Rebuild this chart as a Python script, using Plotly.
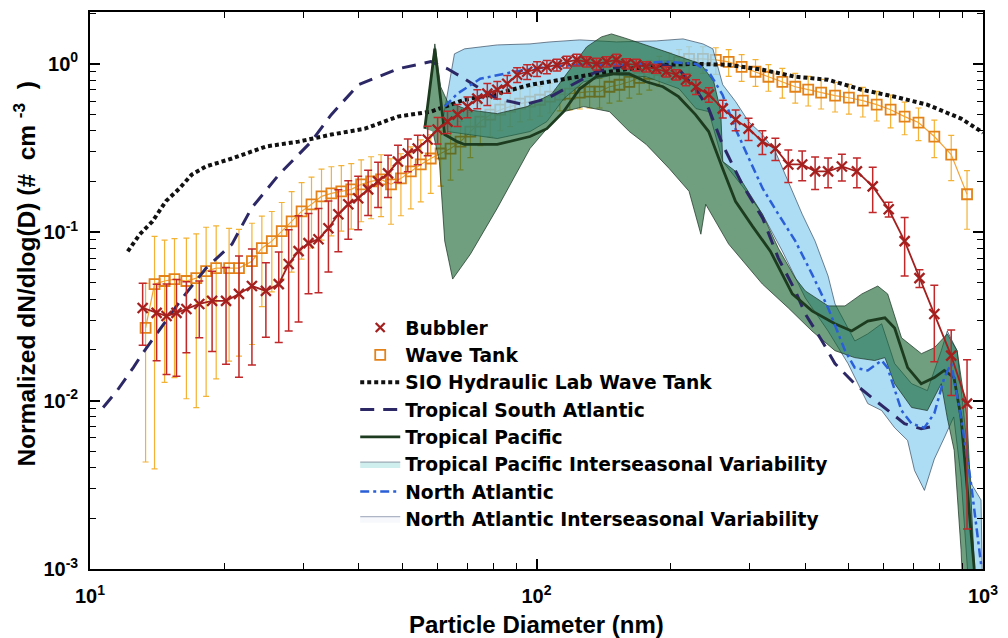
import plotly.graph_objects as go

# ---------------- data ----------------
bubbler_d = [13.12, 14.1, 14.84, 15.62, 16.44, 17.57, 18.77, 20.17, 21.56, 23.05,
             24.77, 26.47, 27.86, 29.32, 30.86, 32.49, 34.2, 35.99, 37.88, 39.87,
             41.97, 44.18, 46.5, 48.95, 51.5, 54.2, 57.06, 60.06, 63.2, 66.55,
             70.05, 73.7, 77.6, 81.7, 86.0, 90.5, 95.3, 100.3, 105.5, 111.1,
             116.9, 123.1, 129.5, 136.3, 143.5, 151, 159, 167.3, 176.1, 185.4,
             195.2, 205.4, 216.2, 227.6, 243.2, 261.3, 279.3, 298.5, 320.6, 342.8,
             366.4, 393.6, 420.7, 449.8, 483, 521.9, 566.2, 614.9, 667.6, 720.6,
             778, 848.8, 921]
bubbler_v = [0.0355, 0.0332, 0.0318, 0.0332, 0.035, 0.0375, 0.0391, 0.0391, 0.043, 0.0479,
             0.0448, 0.0492, 0.0647, 0.0772, 0.0861, 0.0909, 0.1056, 0.1278, 0.1465, 0.159,
             0.1797, 0.2004, 0.2235, 0.263, 0.2934, 0.314, 0.355, 0.407, 0.454, 0.499,
             0.557, 0.621, 0.665, 0.702, 0.761, 0.861, 0.897, 0.934, 0.96, 0.986,
             1.028, 1.056, 1.028, 1.0, 1.028, 1.056, 1.0, 0.986, 0.96, 0.934,
             0.897, 0.861, 0.804, 0.731, 0.656, 0.542, 0.466, 0.4125, 0.345, 0.314,
             0.2526, 0.2526, 0.2296, 0.2296, 0.2458, 0.2296, 0.187, 0.1368, 0.0885, 0.0534,
             0.0327, 0.0185, 0.0096]
bubbler_relerr = [0.4, 0.48, 0.55, 0.58, 0.45, 0.37, 0.5, 0.58, 0.68, 0.66,
                  0.47, 0.55, 0.6, 0.62, 0.5, 0.52, 0.45, 0.4, 0.38, 0.35,
                  0.3, 0.3, 0.28, 0.25, 0.22, 0.2, 0.2, 0.18, 0.15, 0.15,
                  0.14, 0.13, 0.15, 0.12, 0.12, 0.1, 0.1, 0.1, 0.09, 0.08,
                  0.08, 0.08, 0.07, 0.08, 0.07, 0.08, 0.07, 0.08, 0.07, 0.06,
                  0.07, 0.07, 0.08, 0.1, 0.1, 0.12, 0.14, 0.15, 0.16, 0.15,
                  0.22, 0.2, 0.22, 0.2, 0.18, 0.2, 0.3, 0.1, 0.38, 0.12,
                  0.48, 0.42, 0.82]

wave_d = [13.32, 13.95, 14.69, 15.46, 16.44, 17.3, 18.2, 19.17, 20.49, 21.56,
          23.05, 24.26, 25.54, 26.88, 28.29, 29.78, 31.34, 33.0, 34.72, 36.55,
          38.47, 40.49, 42.62, 44.86, 47.22, 49.7, 52.31, 55.06, 57.96, 61.0,
          64.2, 67.58, 71.1, 74.87, 78.8, 82.94, 87.3, 91.9, 96.7, 101.8,
          107.2, 112.8, 118.7, 125, 131.5, 138.4, 145.7, 153.4, 161.4, 169.9,
          178.9, 188.3, 198.2, 208.6, 219.6, 235.9, 252.1, 269.4, 288, 309.4,
          330.7, 355.3, 379.8, 406, 434, 466.3, 500.8, 538.1, 578, 621,
          667.6, 717, 778, 848.8, 921]
wave_v = [0.027, 0.0492, 0.0513, 0.0527, 0.0513, 0.0534, 0.0588, 0.0612, 0.0612, 0.0612,
          0.0673, 0.0804, 0.0885, 0.1014, 0.116, 0.133, 0.1465, 0.1633, 0.170, 0.175,
          0.1797, 0.1923, 0.2004, 0.206, 0.1923, 0.2088, 0.2296, 0.2526, 0.274, 0.2934,
          0.314, 0.345, 0.396, 0.454, 0.499, 0.534, 0.557, 0.58, 0.596, 0.612,
          0.638, 0.656, 0.665, 0.674, 0.683, 0.683, 0.731, 0.751, 0.782, 0.826,
          0.873, 0.922, 0.973, 1.028, 1.07, 1.07, 1.056, 1.028, 0.96, 0.897,
          0.838, 0.782, 0.731, 0.702, 0.674, 0.647, 0.629, 0.604, 0.572, 0.534,
          0.486, 0.448, 0.37, 0.289, 0.168]
wave_relerr = [0.84, 0.92, 0.75, 0.74, 0.8, 0.83, 0.82, 0.78, 0.72, 0.7,
               0.68, 0.55, 0.5, 0.48, 0.5, 0.48, 0.45, 0.45, 0.44, 0.42,
               0.42, 0.4, 0.4, 0.4, 0.42, 0.4, 0.4, 0.4, 0.38, 0.36,
               0.35, 0.32, 0.3, 0.28, 0.26, 0.25, 0.24, 0.22, 0.22, 0.2,
               0.2, 0.2, 0.2, 0.2, 0.2, 0.2, 0.2, 0.2, 0.2, 0.2,
               0.2, 0.2, 0.2, 0.18, 0.18, 0.18, 0.18, 0.18, 0.18, 0.18,
               0.18, 0.2, 0.2, 0.2, 0.2, 0.2, 0.2, 0.2, 0.2, 0.22,
               0.22, 0.22, 0.25, 0.3, 0.38]

sio_d = [12.15, 12.92, 13.8, 14.8, 15.86, 16.9, 18.2, 20.8, 24.8, 29.3,
         34.7, 41.3, 48.9, 58, 69, 81.7, 96.7, 115, 136, 161,
         192, 227, 269, 321, 380, 450, 535, 634, 750, 893, 1000]
sio_v = [0.077, 0.097, 0.116, 0.153, 0.182, 0.22, 0.246, 0.274, 0.323, 0.345,
         0.38, 0.412, 0.486, 0.52, 0.612, 0.665, 0.75, 0.815, 0.873, 0.934,
         0.986, 1.0, 0.986, 0.922, 0.838, 0.804, 0.702, 0.638, 0.572, 0.473, 0.39]

tsa_d = [10.7, 11.5, 12.5, 13.1, 14.1, 15.3, 16.1, 18.2, 20.8, 23.0,
         26.5, 31.3, 34.7, 39.9, 48.9, 58, 63.2, 69, 74.8, 81.7,
         93.7, 105.5, 115, 127.6, 136, 161, 192, 208, 227, 243,
         261, 289, 321, 348, 380, 400, 436, 466, 516, 564,
         611, 667, 727, 790]
tsa_v = [0.0091, 0.01146, 0.0157, 0.019, 0.0249, 0.034, 0.0407, 0.0612, 0.085, 0.139,
         0.22, 0.345, 0.499, 0.75, 0.934, 1.03, 0.934, 0.815, 0.711, 0.621,
         0.572, 0.621, 0.702, 0.815, 0.897, 0.986, 0.986, 0.934, 0.711, 0.542,
         0.332, 0.192, 0.121, 0.0702, 0.0448, 0.0327, 0.0226, 0.0166, 0.0126, 0.0104,
         0.00873, 0.0073, 0.0068, 0.0071]

tp_d = [56.2, 59.2, 62.3, 66.5, 69, 74.8, 81.7, 96.7, 105.5, 115,
        125, 136, 148.6, 161, 176, 192, 208, 227, 243, 261,
        279, 305, 334, 374, 414, 466, 508, 552, 603, 634,
        678, 727, 778, 819, 861, 893, 921, 955, 970]
tp_v = [0.412, 1.23, 0.38, 0.345, 0.332, 0.332, 0.332, 0.37, 0.412, 0.52,
        0.711, 0.838, 0.873, 0.873, 0.782, 0.731, 0.638, 0.499, 0.396, 0.24,
        0.1526, 0.108, 0.0772, 0.043, 0.0341, 0.0286, 0.0259, 0.0297, 0.031, 0.027,
        0.0157, 0.0126, 0.0137, 0.0151, 0.0137, 0.0079, 0.00323, 0.00103, 0.0005]

tp_up_d = [56.2, 59.2, 61.0, 63.2, 70.05, 81.7, 95.3, 108.3, 120, 129.5,
           139.8, 147.2, 157.4, 176.1, 195.2, 216.2, 233.4, 249.5, 258.6, 261.3,
           279.3, 320.6, 348, 379.8, 400, 449.8, 490.8, 535.4, 581.2, 611.6,
           657, 727.8, 778, 831.7, 875, 921, 970]
tp_up_v = [0.412, 1.313, 0.731, 0.596, 0.534, 0.506, 0.557, 0.665, 0.96, 1.26,
           1.445, 1.505, 1.425, 1.295, 1.178, 1.07, 1.0, 0.782, 0.52, 0.263,
           0.2296, 0.128, 0.0804, 0.0534, 0.0448, 0.0365, 0.0365, 0.043, 0.0479, 0.043,
           0.0236, 0.019, 0.0206, 0.0249, 0.0198, 0.0079, 0.0005]
tp_lo_d = [907.5, 893, 862, 831.7, 806.4, 750.6, 692, 634, 603, 572,
           516, 466, 414, 366.4, 320.6, 269.4, 239.3, 233.4, 219.6, 198.2,
           176.1, 161.4, 145.7, 127.6, 115.1, 105.5, 96.7, 81.7, 71.1, 64.9,
           62.3, 60.6, 58.6]
tp_lo_v = [0.0005, 0.0013, 0.00506, 0.0079, 0.0126, 0.00873, 0.0091, 0.0126, 0.018, 0.0173,
           0.018, 0.0198, 0.0259, 0.0355, 0.0492, 0.085, 0.1465, 0.0973, 0.175, 0.239,
           0.332, 0.396, 0.52, 0.557, 0.52, 0.412, 0.314, 0.139, 0.074, 0.0527,
           0.0885, 0.263, 0.396]

na_d = [62.3, 66.5, 74.8, 89.1, 105.5, 125, 161, 192, 227, 243,
        261, 279, 299, 321, 348, 380, 414, 450, 491, 516,
        552, 593, 611, 657, 692, 739, 778, 819, 849, 893,
        940, 990]
na_v = [0.557, 0.665, 0.815, 0.897, 0.96, 0.986, 0.986, 1.03, 1.0, 0.897,
        0.655, 0.412, 0.274, 0.182, 0.128, 0.0885, 0.0564, 0.0355, 0.0198, 0.0157,
        0.0151, 0.0173, 0.0157, 0.00873, 0.0073, 0.0069, 0.0084, 0.0137, 0.0166, 0.0079,
        0.00323, 0.00107]

na_up_d = [61.6, 65.5, 69.0, 76.4, 81.7, 96.7, 107.2, 125, 151, 185.4,
           212.9, 235.9, 248.3, 261.3, 279.3, 298.5, 320.6, 342.8, 366.4, 393.6,
           420.7, 449.8, 466.3, 516.4, 552, 593, 634, 692, 750.6, 806.4,
           831.7, 875, 940, 990, 1000]
na_up_v = [0.454, 1.146, 1.227, 1.26, 1.295, 1.313, 1.349, 1.387, 1.349, 1.368,
           1.406, 1.313, 1.227, 0.751, 0.596, 0.454, 0.38, 0.301, 0.2004, 0.128,
           0.0885, 0.055, 0.0375, 0.0226, 0.0249, 0.0286, 0.0166, 0.0126, 0.01146, 0.0198,
           0.0259, 0.0198, 0.00323, 0.00257, 0.0005]
na_lo_d = [940, 893, 860, 818.6, 778, 739.3, 702.4, 677.8, 634, 593,
           552, 498.4, 449.8, 400, 355.3, 320.6, 289.4, 261.3, 243.2, 227.6,
           208.6, 176.1, 148.7, 127.6, 115.1, 105.5, 96.7, 81.7, 63.2]
na_lo_v = [0.0005, 0.0035, 0.008, 0.006, 0.0045, 0.00293, 0.00385, 0.0058, 0.0069, 0.00873,
           0.0096, 0.0166, 0.0259, 0.0407, 0.0772, 0.128, 0.187, 0.263, 0.52, 0.542,
           0.711, 0.838, 0.861, 0.782, 0.621, 0.454, 0.396, 0.36, 0.396]

x_tick_vals = [10, 100, 1000]
x_tick_text = ["10<sup>1</sup>", "10<sup>2</sup>", "10<sup>3</sup>"]
y_tick_vals = [0.001, 0.01, 0.1, 1]
y_tick_text = ["10<sup>-3</sup>", "10<sup>-2</sup>", "10<sup>-1</sup>", "10<sup>0</sup>"]

# ---------------- styling ----------------
FONT = "Liberation Sans, Arial, Helvetica, sans-serif"
LEGEND_FONT = "DejaVu Sans, Liberation Sans, Arial, sans-serif"
C_BUB = "#a3201f"
C_BUB_ERR = "#c0282a"
C_WAVE = "#e4821a"
C_WAVE_ERR = "#f3b234"
C_SIO = "#111111"
C_TSA = "#2c2866"
C_TP = "#1c3b1f"
C_NA = "#2a5fd8"

bub_err = [r * v for r, v in zip(bubbler_relerr, bubbler_v)]
wave_err = [r * v for r, v in zip(wave_relerr, wave_v)]

fig = go.Figure()

# Wave tank (drawn beneath the variability bands)
fig.add_trace(go.Scatter(
    x=wave_d, y=wave_v, mode="lines+markers", showlegend=False,
    line=dict(color="#f2a43a", width=1.2),
    marker=dict(symbol="square-open", size=10, color=C_WAVE, line=dict(width=1.8, color=C_WAVE)),
    error_y=dict(type="data", array=wave_err, arrayminus=wave_err, color=C_WAVE_ERR,
                 thickness=1.2, width=3)))

# North Atlantic interseasonal variability band
fig.add_trace(go.Scatter(
    x=na_up_d + na_lo_d, y=na_up_v + na_lo_v, mode="lines", fill="toself",
    fillcolor="rgba(150,210,242,0.78)", line=dict(color="rgba(40,60,80,0.8)", width=0.8),
    showlegend=False, hoverinfo="skip"))

# Tropical Pacific interseasonal variability band
fig.add_trace(go.Scatter(
    x=tp_up_d + tp_lo_d, y=tp_up_v + tp_lo_v, mode="lines", fill="toself",
    fillcolor="rgba(15,95,40,0.6)", line=dict(color="rgba(25,50,35,0.9)", width=0.8),
    showlegend=False, hoverinfo="skip"))

fig.add_trace(go.Scatter(
    x=sio_d, y=sio_v, mode="lines", name="SIO Hydraulic Lab Wave Tank", legendrank=3,
    line=dict(color=C_SIO, width=4, dash="4px,3px")))
fig.add_trace(go.Scatter(
    x=tsa_d, y=tsa_v, mode="lines", name="Tropical South Atlantic", legendrank=4,
    line=dict(color=C_TSA, width=3, dash="14px,9px")))
fig.add_trace(go.Scatter(
    x=tp_d, y=tp_v, mode="lines", name="Tropical Pacific", legendrank=5,
    line=dict(color=C_TP, width=2.8)))
fig.add_trace(go.Scatter(
    x=na_d, y=na_v, mode="lines", name="North Atlantic", legendrank=7,
    line=dict(color=C_NA, width=2.5, dash="9px,4px,3px,4px")))

# Bubbler
fig.add_trace(go.Scatter(
    x=bubbler_d, y=bubbler_v, mode="lines+markers", showlegend=False,
    line=dict(color=C_BUB, width=1.8),
    marker=dict(symbol="x-thin", size=10, color=C_BUB, line=dict(width=2.3, color=C_BUB)),
    error_y=dict(type="data", array=bub_err, arrayminus=bub_err, color=C_BUB_ERR,
                 thickness=1.5, width=4)))

# legend-only entries (swatches as they appear in the reference legend)
fig.add_trace(go.Scatter(
    x=[None], y=[None], mode="markers", name="Bubbler", legendrank=1,
    marker=dict(symbol="x-thin", size=9, color=C_BUB, line=dict(width=2.3, color=C_BUB))))
fig.add_trace(go.Scatter(
    x=[None], y=[None], mode="markers", name="Wave Tank", legendrank=2,
    marker=dict(symbol="square-open", size=10, color=C_WAVE, line=dict(width=1.8, color=C_WAVE))))
fig.add_trace(go.Scatter(
    x=[None], y=[None], mode="lines", fill="toself", name="Tropical Pacific Interseasonal Variability",
    legendrank=6, fillcolor="#cfeeee", line=dict(color="#8d9aa6", width=1)))
fig.add_trace(go.Scatter(
    x=[None], y=[None], mode="lines", fill="toself", name="North Atlantic Interseasonal Variability",
    legendrank=8, fillcolor="#f6f8fb", line=dict(color="#9aa4b8", width=1)))

x_minor = [m * 10 ** k for k in (1, 2) for m in range(2, 10)]
y_minor = [m * 10.0 ** k for k in (-3, -2, -1, 0) for m in range(2, 10)]

axis_common = dict(
    showgrid=False, zeroline=False, showline=True, linecolor="black", linewidth=1.8,
    mirror="ticks", ticks="inside", ticklen=10, tickwidth=1.5, tickcolor="black",
    tickfont=dict(family=FONT, size=20, color="black", weight="bold"),
)

fig.update_xaxes(type="log", range=[1, 3], tickmode="array", tickvals=x_tick_vals,
                 ticktext=x_tick_text, ticklabelstandoff=8,
                 minor=dict(tickvals=x_minor, ticks="inside", ticklen=6, tickwidth=1.2,
                            tickcolor="black", showgrid=False),
                 **axis_common)
fig.update_yaxes(type="log", range=[-3, 0.3077], tickmode="array", tickvals=y_tick_vals,
                 ticktext=y_tick_text, ticklabelstandoff=6,
                 minor=dict(tickvals=y_minor, ticks="inside", ticklen=6, tickwidth=1.2,
                            tickcolor="black", showgrid=False),
                 **axis_common)

NB = "\u00a0"
fig.update_layout(
    width=1008, height=638,
    margin=dict(l=90, r=19, t=10, b=69),
    paper_bgcolor="white", plot_bgcolor="white",
    font=dict(family=FONT, color="black"),
    showlegend=True,
    legend=dict(x=0.297, y=0.467, xanchor="left", yanchor="top",
                bgcolor="rgba(0,0,0,0)", borderwidth=0, itemwidth=40,
                font=dict(family=LEGEND_FONT, size=18.7, color="black", weight="bold"),
                tracegroupgap=0),
    annotations=[
        dict(text="Particle Diameter (nm)", xref="paper", yref="paper", x=0.5, y=-0.1,
             xanchor="center", yanchor="middle", showarrow=False,
             font=dict(family=FONT, size=24, color="black", weight="bold")),
        dict(text="Normalized dN/dlog(D)" + NB + "(#" + NB + NB + "cm" + NB + "<sup>-3</sup>"
                  + NB + NB + ")",
             xref="paper", yref="paper",
             x=-0.073, y=0.53, xanchor="center", yanchor="middle", textangle=-90, showarrow=False,
             font=dict(family=FONT, size=24.5, color="black", weight="bold")),
    ],
)

fig.write_html("out.html")
